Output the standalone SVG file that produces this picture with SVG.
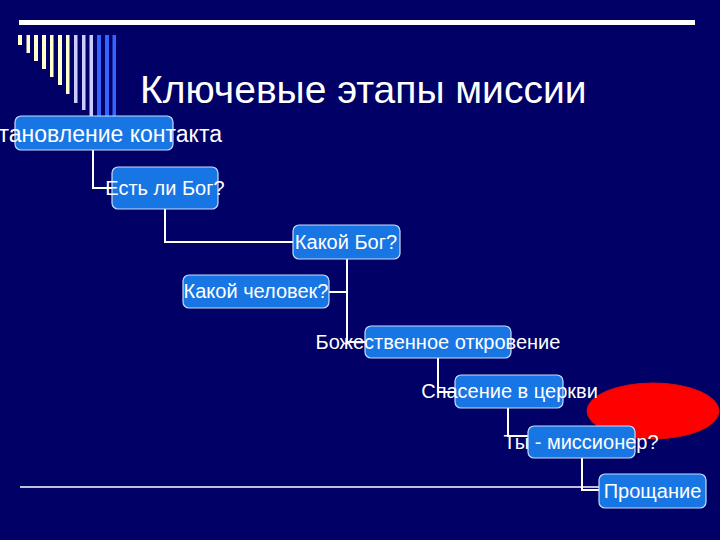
<svg xmlns="http://www.w3.org/2000/svg" width="720" height="540" viewBox="0 0 720 540">
<style>
.box{fill:#1876e4;stroke:#c8dcff;stroke-width:1.2}
.lbl{font-family:"Liberation Sans",Arial,sans-serif;font-size:20px;fill:#ffffff;text-anchor:middle}
.con{fill:none;stroke:#ffffff;stroke-width:2}
.by{fill:#ffffcc}
.bl{fill:#ccccff}
.bb{fill:#3366ff}
</style>
<rect width="720" height="540" fill="#000066"/>
<rect x="19" y="20" width="676" height="5" fill="#ffffff"/>
<g id="bars">
<rect class="by" x="18" y="35" width="4" height="10"/>
<rect class="by" x="26.5" y="35" width="3.5" height="18"/>
<rect class="by" x="34" y="35" width="4" height="26"/>
<rect class="by" x="42" y="35" width="4" height="34"/>
<rect class="by" x="50" y="35" width="3.5" height="42"/>
<rect class="by" x="58" y="35" width="4" height="50"/>
<rect class="by" x="66" y="35" width="3.5" height="59"/>
<rect class="bl" x="74" y="35" width="3.5" height="68"/>
<rect class="bl" x="82" y="35" width="3.5" height="75"/>
<rect class="bl" x="89.5" y="35" width="3.5" height="82"/>
<rect class="bb" x="97" y="35" width="4" height="82"/>
<rect class="bb" x="105" y="35" width="4" height="82"/>
<rect class="bb" x="112.5" y="35" width="3.5" height="82"/>
</g>
<text x="140" y="103" font-family="'Liberation Sans',Arial,sans-serif" font-size="39" fill="#ffffff">Ключевые этапы миссии</text>
<line x1="20" y1="487" x2="600" y2="487" stroke="#ffffff" stroke-width="1.5"/>
<ellipse cx="653" cy="411" rx="66" ry="28" fill="#ff0000" stroke="#cc1010" stroke-width="1"/>
<g id="connectors">
<polyline class="con" points="93,150 93,188 112,188"/>
<polyline class="con" points="165,209 165,242 293,242"/>
<polyline class="con" points="347,259 347,342 365,342"/>
<polyline class="con" points="329,292 347,292"/>
<polyline class="con" points="438,358 438,392 455,392"/>
<polyline class="con" points="508,408 508,436 528,436"/>
<polyline class="con" points="582,458 582,490 599,490"/>
</g>
<g id="n1"><rect class="box" x="15" y="116" width="158" height="34" rx="6"/><text class="lbl" x="222" y="142" style="text-anchor:end;font-size:23px">Установление контакта</text></g>
<g id="n2"><rect class="box" x="112" y="167" width="106" height="42" rx="6"/><text class="lbl" x="165" y="195">Есть ли Бог?</text></g>
<g id="n3"><rect class="box" x="293" y="225" width="107" height="34" rx="6"/><text class="lbl" x="346" y="249">Какой Бог?</text></g>
<g id="n4"><rect class="box" x="183" y="275" width="146" height="33" rx="6"/><text class="lbl" x="256" y="298">Какой человек?</text></g>
<g id="n5"><rect class="box" x="365" y="326" width="146" height="32" rx="6"/><text class="lbl" x="438" y="349">Божественное откровение</text></g>
<g id="n6"><rect class="box" x="455" y="375" width="108" height="33" rx="6"/><text class="lbl" x="509.5" y="398">Спасение в церкви</text></g>
<g id="n7"><rect class="box" x="528" y="426" width="107" height="32" rx="6"/><text class="lbl" x="581" y="449">Ты - миссионер?</text></g>
<g id="n8"><rect class="box" x="599" y="474" width="107" height="34" rx="6"/><text class="lbl" x="652.5" y="498">Прощание</text></g>
</svg>
